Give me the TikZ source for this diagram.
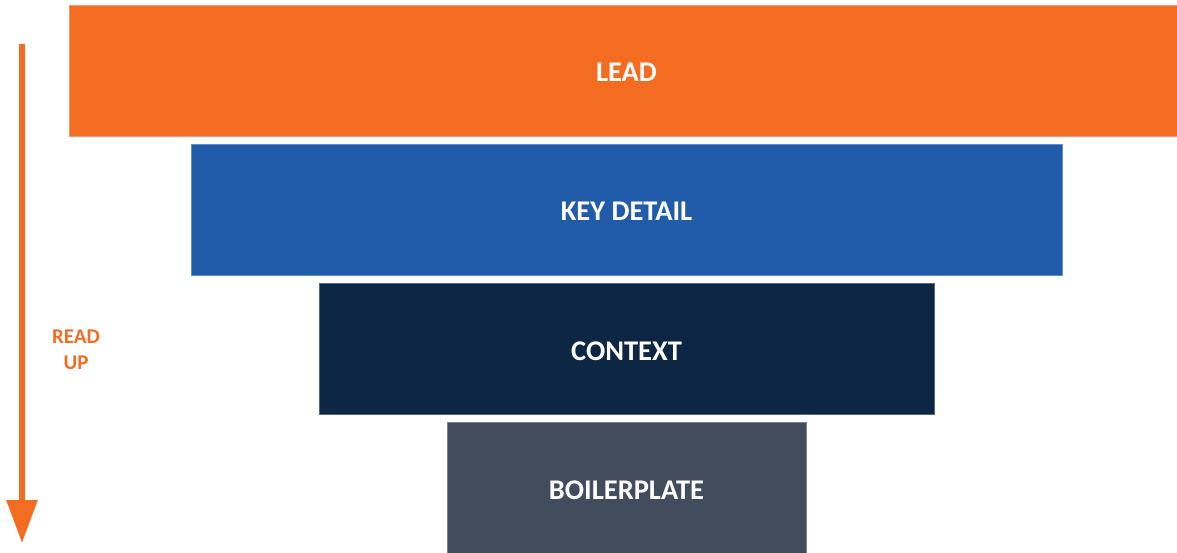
\documentclass[tikz,border=0pt]{standalone}
\usepackage{fontspec}
\setmainfont{Carlito}
\usetikzlibrary{positioning,arrows.meta}

\definecolor{leadorange}{HTML}{F36C21}
\definecolor{keyblue}{HTML}{215CAA}
\definecolor{ctxnavy}{HTML}{0C2644}
\definecolor{plategray}{HTML}{414C5D}

\tikzset{
	layer/.style={rectangle, fill=#1, draw=#1!70!white, line width=0.8pt, minimum height=131pt, outer sep=0pt, inner sep=0pt, text height=23pt, text depth=0pt, text=white, font=\fontsize{28.5}{32}\selectfont\bfseries},
	readlabel/.style={text=leadorange, font=\fontsize{21}{26}\selectfont\bfseries, align=center}
}

\begin{document}
\begin{tikzpicture}[x=1pt,y=-1pt]
				\useasboundingbox (0,0) rectangle (1177,553);
				\clip (0,0) rectangle (1177,553);
				\node[layer=leadorange, minimum width=1115pt] (lead) at (626.5,70.5) {LEAD};
				\node[layer=keyblue, minimum width=871pt, below=8pt of lead] (keydetail) {KEY DETAIL};
				\node[layer=ctxnavy, minimum width=615pt, below=8pt of keydetail] (context) {CONTEXT};
				\node[layer=plategray, minimum width=359pt, below=8pt of context] (boilerplate) {BOILERPLATE};
				\node[readlabel] (readup) at (76,350) {READ\\UP};
				\coordinate (top) at (22,44);
				\coordinate (bottom) at (22,543);
				\draw[leadorange, line width=6pt, -{Triangle[width=30pt,length=43pt]}] (top) -- (bottom);
			\end{tikzpicture}
\end{document}
